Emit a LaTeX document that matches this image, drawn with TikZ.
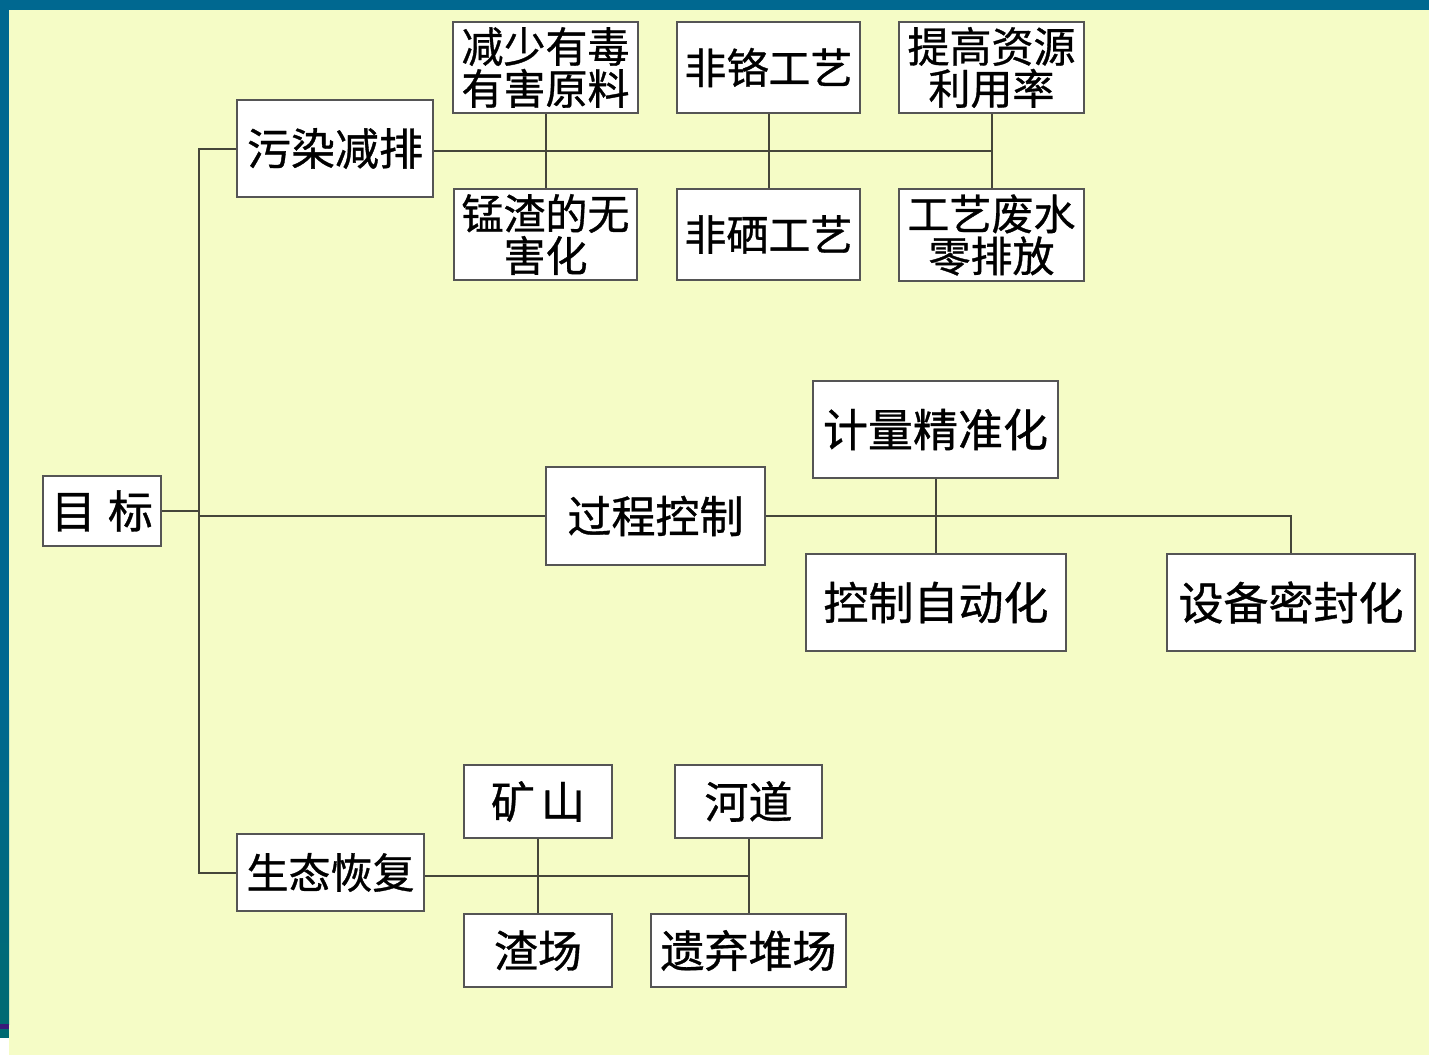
\documentclass[tikz,border=0pt]{standalone}
\usepackage{fontspec}
\newfontfamily\cjk[FakeBold=0.8]{Noto Sans CJK SC}
\definecolor{bgyellow}{HTML}{F5FCC6}
\definecolor{barblue}{HTML}{006890}
\definecolor{barteal}{HTML}{006A72}
\definecolor{barpurple}{HTML}{3A1A7A}
\definecolor{linecol}{HTML}{45463A}
\definecolor{boxcol}{HTML}{555555}
\tikzset{
  box/.style={draw=boxcol, line width=1pt, fill=white, inner sep=0pt, align=center, font=\cjk},
  conn/.style={draw=linecol, line width=1pt},
}
\begin{document}
\begin{tikzpicture}[x=0.5pt,y=-0.5pt]
\useasboundingbox (0,0) rectangle (1429,1055);
% background
\fill[bgyellow] (0,0) rectangle (1429,1055);
\fill[barblue] (0,0) rectangle (1429,10);
\fill[barblue] (0,0) rectangle (9,700);
\shade[top color=barblue,bottom color=barteal] (0,700) rectangle (9,1024);
\fill[barpurple] (0,1024) rectangle (9,1029);
\fill[barteal] (0,1029) rectangle (9,1038);
\fill[white] (0,1038) rectangle (9,1055);

% nodes
\node[box, minimum width=59pt, minimum height=35pt, font=\cjk\fontsize{22.5}{22.5}\selectfont] (mb) at (102,511) {目\hspace{6pt}标};
\node[box, minimum width=98pt, minimum height=48.5pt, font=\cjk\fontsize{22}{22}\selectfont] (wr) at (335,148.5) {污染减排};
\node[box, minimum width=92.5pt, minimum height=45.5pt, font=\cjk\fontsize{21}{21}\selectfont] (a1) at (545.5,67.5) {减少有毒\\有害原料};
\node[box, minimum width=91.5pt, minimum height=45.5pt, font=\cjk\fontsize{21}{21}\selectfont] (a2) at (768.5,67.5) {非铬工艺};
\node[box, minimum width=92.5pt, minimum height=45.5pt, font=\cjk\fontsize{21}{21}\selectfont] (a3) at (991.5,67.5) {提高资源\\利用率};
\node[box, minimum width=91.5pt, minimum height=45.5pt, font=\cjk\fontsize{21}{21}\selectfont] (b1) at (545.5,234.5) {锰渣的无\\害化};
\node[box, minimum width=91.5pt, minimum height=45.5pt, font=\cjk\fontsize{21}{21}\selectfont] (b2) at (768.5,234.5) {非硒工艺};
\node[box, minimum width=92.5pt, minimum height=46pt, font=\cjk\fontsize{21}{21}\selectfont] (b3) at (991.5,235) {工艺废水\\零排放};
\node[box, minimum width=109.5pt, minimum height=49pt, font=\cjk\fontsize{22}{22}\selectfont] (gc) at (655.5,516) {过程控制};
\node[box, minimum width=122.5pt, minimum height=48.5pt, font=\cjk\fontsize{22.5}{22.5}\selectfont] (c1) at (935.5,429.5) {计量精准化};
\node[box, minimum width=130pt, minimum height=48.5pt, font=\cjk\fontsize{22.5}{22.5}\selectfont] (c2) at (936,602.5) {控制自动化};
\node[box, minimum width=124pt, minimum height=48.5pt, font=\cjk\fontsize{22.5}{22.5}\selectfont] (c3) at (1291,602.5) {设备密封化};
\node[box, minimum width=93.5pt, minimum height=38.5pt, font=\cjk\fontsize{21}{21}\selectfont] (st) at (330.5,872.5) {生态恢复};
\node[box, minimum width=74pt, minimum height=36.5pt, font=\cjk\fontsize{22}{22}\selectfont] (d1) at (538,801.5) {矿\hspace{3pt}山};
\node[box, minimum width=73.5pt, minimum height=36.5pt, font=\cjk\fontsize{22}{22}\selectfont] (d2) at (748.5,801.5) {河道};
\node[box, minimum width=74pt, minimum height=36.5pt, font=\cjk\fontsize{22}{22}\selectfont] (d3) at (538,950.5) {渣场};
\node[box, minimum width=97.5pt, minimum height=36.5pt, font=\cjk\fontsize{22}{22}\selectfont] (d4) at (748.5,950.5) {遗弃堆场};

% junction coordinates
\coordinate (tm) at (199,511);
\coordinate (tg) at (199,516);
\coordinate (j1) at (991,151);
\coordinate (j3) at (748,876);

% connectors
\draw[conn] (mb.east) -- (tm);
\draw[conn] (wr.west) -| (tm) |- (st.west);
\draw[conn] (tg) -- (gc.west);
\draw[conn] (wr.east |- j1) -- (j1);
\draw[conn] (a1.south) -- (b1.north);
\draw[conn] (a2.south) -- (b2.north);
\draw[conn] (a3.south) -- (b3.north);
\draw[conn] (gc.east) -| (c3.north);
\draw[conn] (c1.south) -- (c2.north -| c1.south);
\draw[conn] (st.east |- j3) -- (j3);
\draw[conn] (d1.south) -- (d3.north);
\draw[conn] (d2.south) -- (d4.north -| d2.south);
\end{tikzpicture}
\end{document}
